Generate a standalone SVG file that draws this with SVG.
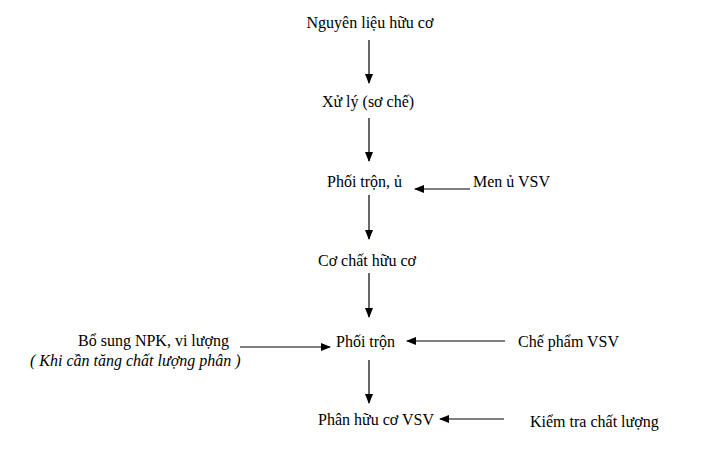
<svg xmlns="http://www.w3.org/2000/svg" width="713" height="466" viewBox="0 0 713 466">
<style>
text{font-family:"Liberation Serif","Times New Roman",serif;font-size:16px;fill:#000}
.i{font-style:italic}
line{stroke:#000;stroke-width:1.2;marker-end:url(#a)}
</style>
<defs><marker id="a" markerWidth="10" markerHeight="8" refX="9" refY="4" orient="auto" markerUnits="userSpaceOnUse"><path d="M0,0L10,4L0,8z" fill="#000"/></marker></defs>
<rect width="713" height="466" fill="#fff"/>
<g id="n1"><text x="370" y="28" text-anchor="middle">Nguyên liệu hữu cơ</text></g>
<g id="n2"><text x="368" y="107" text-anchor="middle">Xử lý (sơ chế)</text></g>
<g id="n3"><text x="327" y="187">Phối trộn, ủ</text></g>
<g id="n4"><text x="473" y="187">Men ủ VSV</text></g>
<g id="n5"><text x="367" y="266" text-anchor="middle">Cơ chất hữu cơ</text></g>
<g id="n6"><text x="78" y="346">Bổ sung NPK,  vi lượng</text><text class="i" x="30" y="366">( Khi cần tăng chất lượng phân )</text></g>
<g id="n7"><text x="336" y="347">Phối trộn</text></g>
<g id="n8"><text x="518" y="347">Chế phẩm VSV</text></g>
<g id="n9"><text x="318" y="425">Phân hữu cơ VSV</text></g>
<g id="n10"><text x="530" y="427">Kiểm tra chất lượng</text></g>
<g id="connectors">
<line x1="369" y1="40" x2="369" y2="83"/>
<line x1="369" y1="118" x2="369" y2="161"/>
<line x1="470" y1="189" x2="415" y2="189"/>
<line x1="369" y1="195" x2="369" y2="239"/>
<line x1="369" y1="273" x2="369" y2="317"/>
<line x1="240" y1="347" x2="330" y2="347"/>
<line x1="505" y1="341" x2="407" y2="341"/>
<line x1="369" y1="360" x2="369" y2="403"/>
<line x1="504" y1="419" x2="440" y2="419"/>
</g>
</svg>
